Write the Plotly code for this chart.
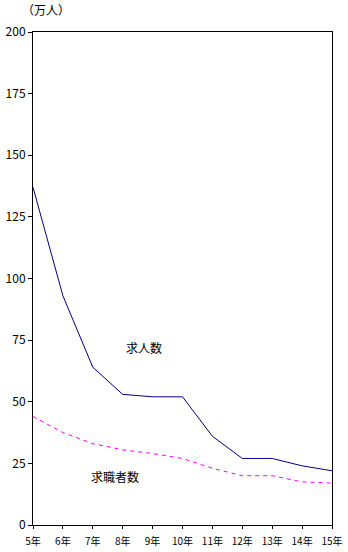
import plotly.graph_objects as go

years = [5, 6, 7, 8, 9, 10, 11, 12, 13, 14, 15]
tick_labels = ["5年", "6年", "7年", "8年", "9年", "10年", "11年", "12年", "13年", "14年", "15年"]
kyujin = [137, 93, 64, 53, 52, 52, 36, 27, 27, 24, 22]
kyushokusha = [44, 37.5, 33, 30.5, 29, 27, 23, 20, 20, 17.5, 17]
y_ticks = [0, 25, 50, 75, 100, 125, 150, 175, 200]

font = "Noto Sans CJK JP"

fig = go.Figure()
fig.add_trace(go.Scatter(x=years, y=kyujin, mode="lines",
                         line=dict(color="#000080", width=1), name="求人数"))
fig.add_trace(go.Scatter(x=years, y=kyushokusha, mode="lines",
                         line=dict(color="#FF00FF", width=1, dash="4px,4px"), name="求職者数"))

fig.add_annotation(x=8.7, y=72, text="求人数", showarrow=False,
                   font=dict(family=font, size=12, color="black"))
fig.add_annotation(x=7.75, y=19.5, text="求職者数", showarrow=False,
                   font=dict(family=font, size=12, color="black"))
fig.add_annotation(xref="paper", yref="paper", x=0.045, y=1.045, xanchor="center", yanchor="middle",
                   text="（万人）", showarrow=False,
                   font=dict(family=font, size=12, color="black"))

fig.update_layout(
    width=348, height=552,
    margin=dict(l=33, r=16, t=32, b=27, autoexpand=False),
    plot_bgcolor="white", paper_bgcolor="white",
    showlegend=False,
    font=dict(family=font, size=11, color="black"),
    xaxis=dict(range=[5, 15], tickvals=years, ticktext=tick_labels, automargin=False,
               showgrid=False, zeroline=False, showline=True, linecolor="black", linewidth=1,
               mirror=True, ticks="outside", ticklen=3, tickcolor="black",
               ticklabelstandoff=4,
               tickfont=dict(family=font, size=10)),
    yaxis=dict(range=[0, 200], tickvals=y_ticks, automargin=False,
               showgrid=False, zeroline=False, showline=True, linecolor="black", linewidth=1,
               mirror=True, ticks="outside", ticklen=4, tickcolor="black",
               tickfont=dict(family=font, size=12)),
)

fig.write_html("out.html")
